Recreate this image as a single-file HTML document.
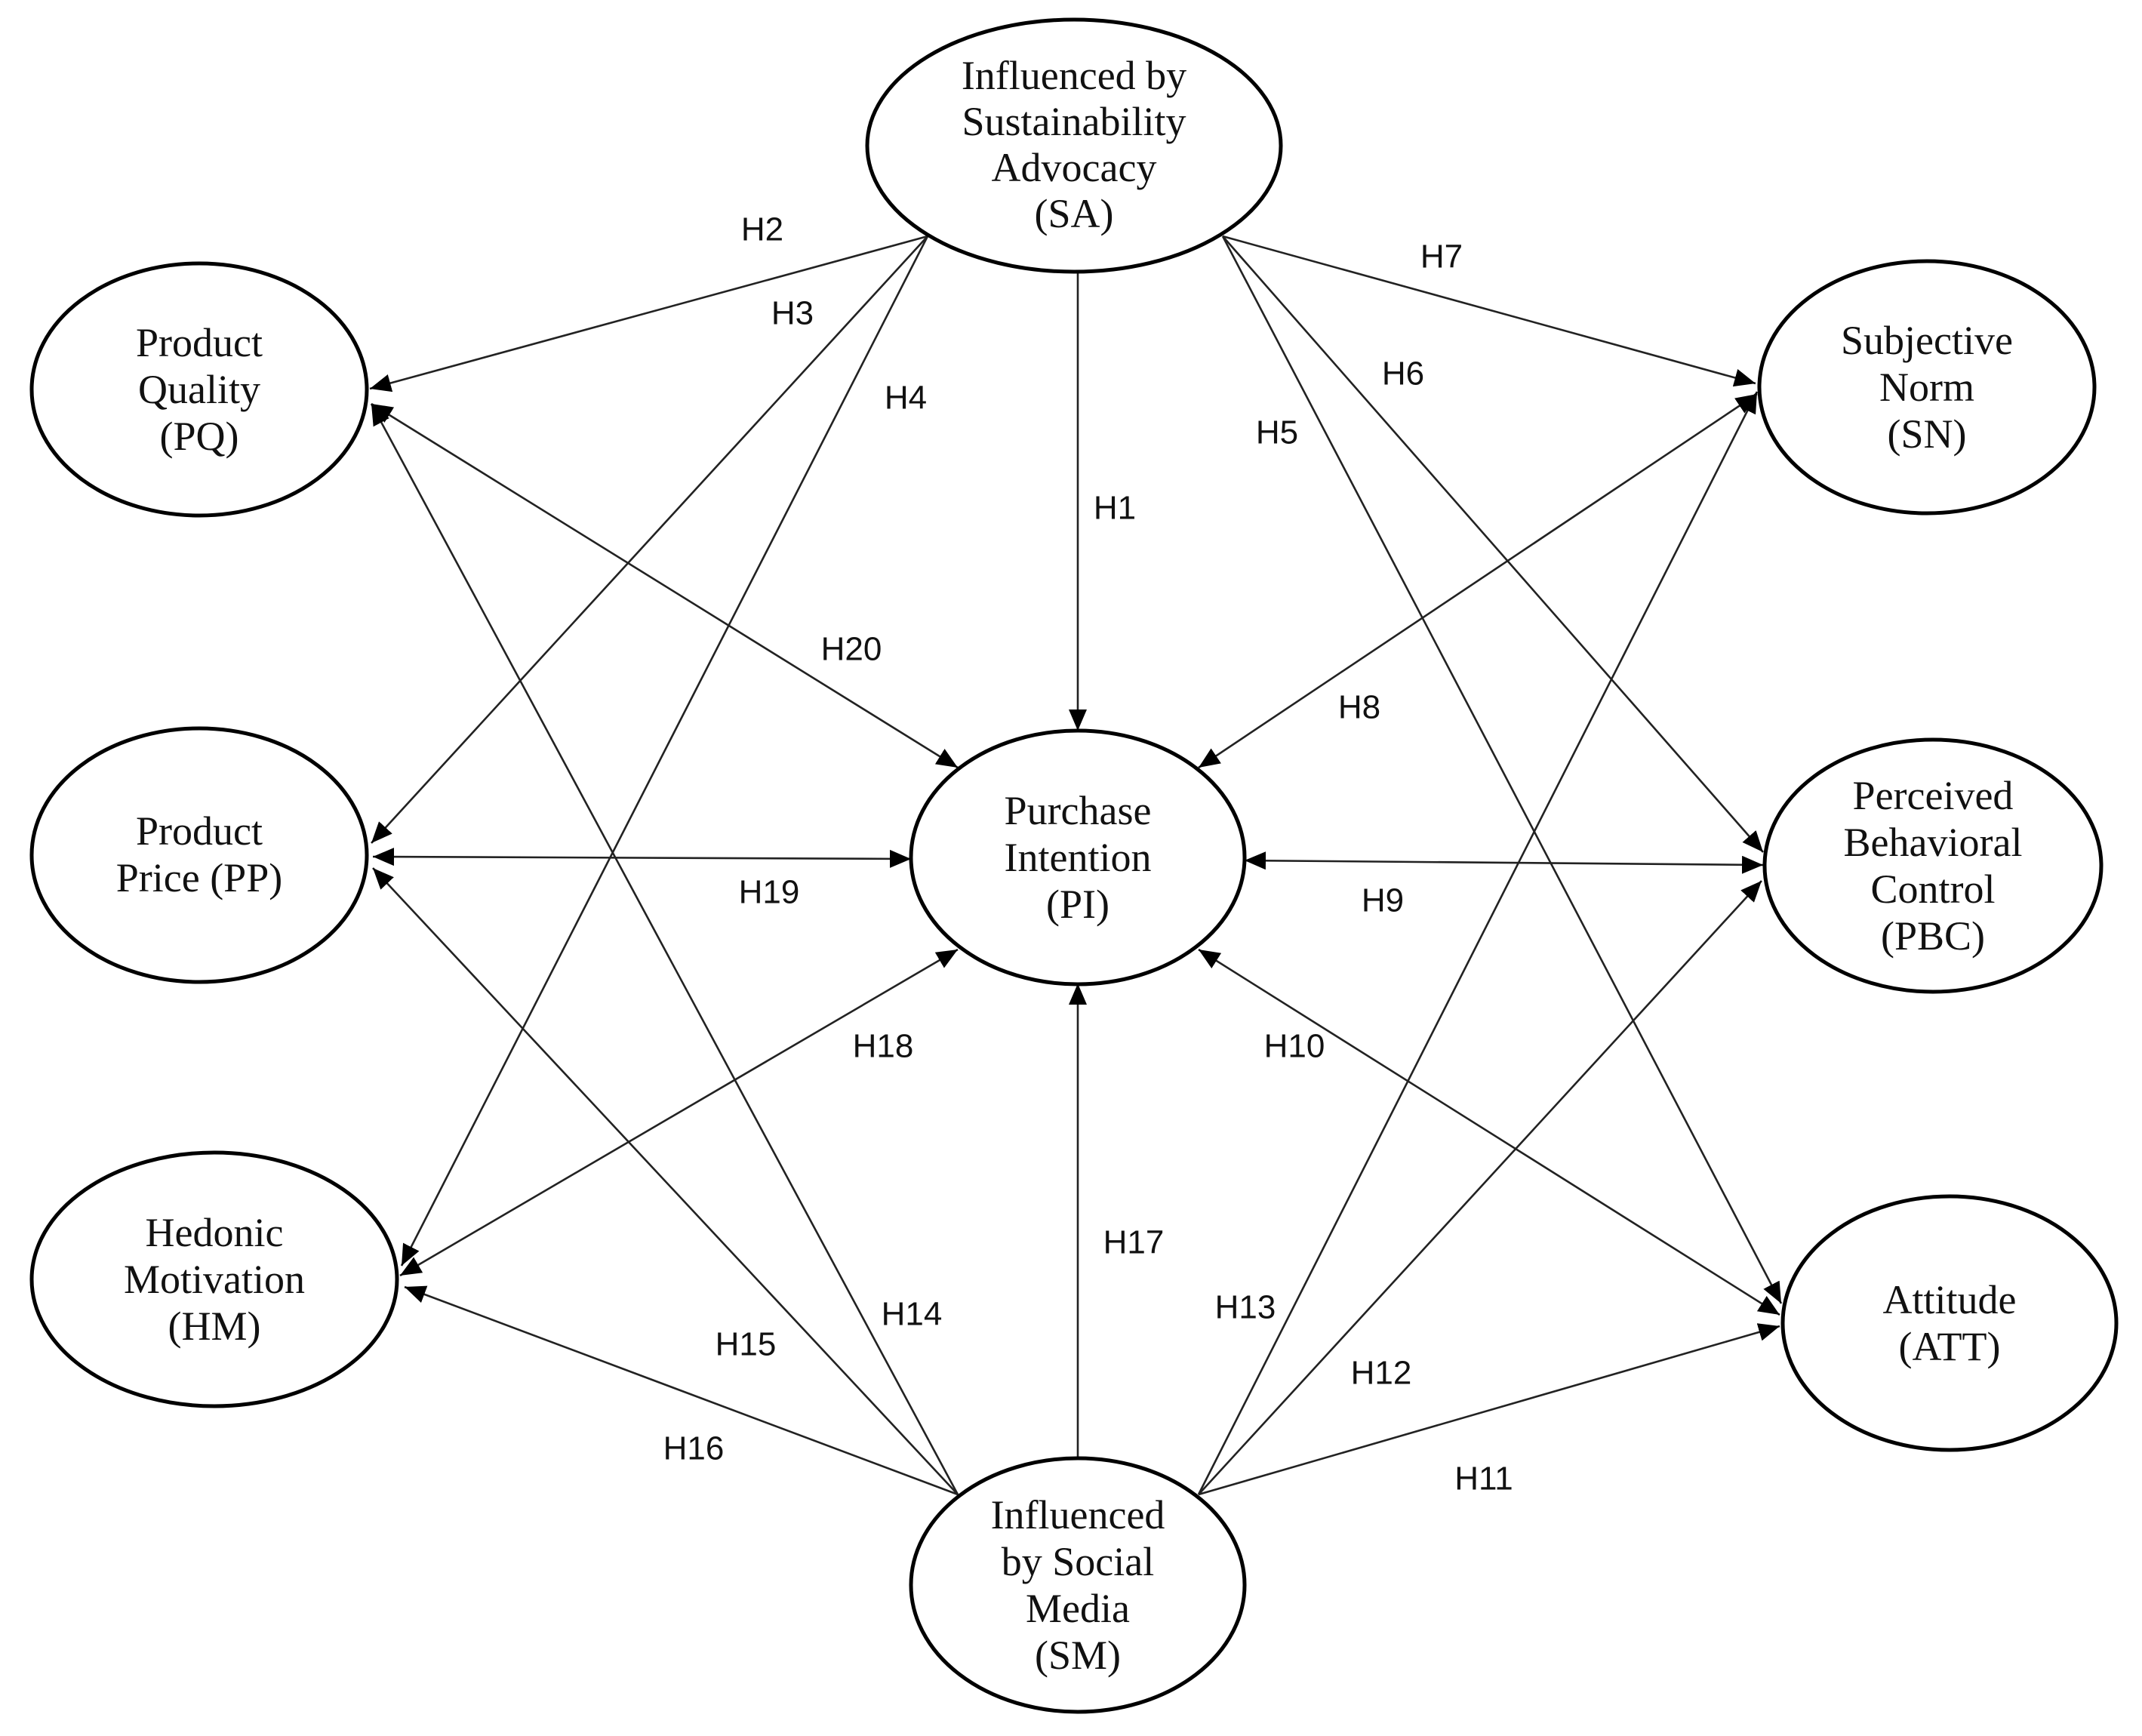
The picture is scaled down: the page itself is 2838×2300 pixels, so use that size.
<!DOCTYPE html>
<html><head><meta charset="utf-8"><style>
html,body{margin:0;padding:0;background:#fff;}
svg{display:block;}
.n{font-family:"Liberation Serif",serif;font-size:54px;fill:#111;text-anchor:middle;}
.h{font-family:"Liberation Sans",sans-serif;font-size:44px;fill:#111;text-anchor:middle;dominant-baseline:central;}
ellipse{fill:#fff;stroke:#000;stroke-width:5;}
line{stroke:#222;stroke-width:2.6;}
</style></head><body>
<svg width="2838" height="2300" viewBox="0 0 2838 2300" xmlns="http://www.w3.org/2000/svg">
<defs>
<marker id="a" markerUnits="userSpaceOnUse" markerWidth="30" markerHeight="26" refX="28" refY="12" orient="auto-start-reverse">
<path d="M0,0 L28,12 L0,24 z" fill="#000"/>
</marker>
</defs>
<!-- connectors -->
<!-- from SA -->
<line x1="1229" y1="313" x2="490" y2="515" marker-end="url(#a)"/>
<line x1="1229" y1="313" x2="492" y2="1117" marker-end="url(#a)"/>
<line x1="1229" y1="313" x2="532" y2="1677" marker-end="url(#a)"/>
<line x1="1428" y1="360" x2="1428" y2="968" marker-end="url(#a)"/>
<line x1="1620" y1="313" x2="2326" y2="508" marker-end="url(#a)"/>
<line x1="1620" y1="313" x2="2336" y2="1129" marker-end="url(#a)"/>
<line x1="1620" y1="313" x2="2360" y2="1727" marker-end="url(#a)"/>
<!-- PI double-headed -->
<line x1="1269" y1="1017" x2="492" y2="535" marker-start="url(#a)" marker-end="url(#a)"/>
<line x1="1207" y1="1138" x2="494" y2="1135" marker-start="url(#a)" marker-end="url(#a)"/>
<line x1="1269" y1="1258" x2="530" y2="1690" marker-start="url(#a)" marker-end="url(#a)"/>
<line x1="1588" y1="1017" x2="2328" y2="522" marker-start="url(#a)" marker-end="url(#a)"/>
<line x1="1649" y1="1140" x2="2336" y2="1146" marker-start="url(#a)" marker-end="url(#a)"/>
<line x1="1588" y1="1258" x2="2358" y2="1742" marker-start="url(#a)" marker-end="url(#a)"/>
<!-- from SM -->
<line x1="1428" y1="1932" x2="1428" y2="1303" marker-end="url(#a)"/>
<line x1="1269" y1="1980" x2="492" y2="535" marker-end="url(#a)"/>
<line x1="1269" y1="1980" x2="494" y2="1150" marker-end="url(#a)"/>
<line x1="1269" y1="1980" x2="536" y2="1705" marker-end="url(#a)"/>
<line x1="1588" y1="1980" x2="2328" y2="519" marker-end="url(#a)"/>
<line x1="1588" y1="1980" x2="2334" y2="1167" marker-end="url(#a)"/>
<line x1="1588" y1="1980" x2="2358" y2="1757" marker-end="url(#a)"/>

<!-- nodes -->
<ellipse cx="1423" cy="193" rx="274" ry="167"/>
<text class="n" x="1423" y="118">Influenced by</text>
<text class="n" x="1423" y="179">Sustainability</text>
<text class="n" x="1423" y="240">Advocacy</text>
<text class="n" x="1423" y="301">(SA)</text>

<ellipse cx="264" cy="516" rx="222" ry="167"/>
<text class="n" x="264" y="472">Product</text>
<text class="n" x="264" y="534">Quality</text>
<text class="n" x="264" y="596">(PQ)</text>

<ellipse cx="264" cy="1133" rx="222" ry="168"/>
<text class="n" x="264" y="1119">Product</text>
<text class="n" x="264" y="1181">Price (PP)</text>

<ellipse cx="284" cy="1695" rx="242" ry="168"/>
<text class="n" x="284" y="1651">Hedonic</text>
<text class="n" x="284" y="1713">Motivation</text>
<text class="n" x="284" y="1775">(HM)</text>

<ellipse cx="1428" cy="1136" rx="221" ry="168"/>
<text class="n" x="1428" y="1092">Purchase</text>
<text class="n" x="1428" y="1154">Intention</text>
<text class="n" x="1428" y="1216">(PI)</text>

<ellipse cx="2553" cy="513" rx="222" ry="167"/>
<text class="n" x="2553" y="469">Subjective</text>
<text class="n" x="2553" y="531">Norm</text>
<text class="n" x="2553" y="593">(SN)</text>

<ellipse cx="2561" cy="1147" rx="223" ry="167"/>
<text class="n" x="2561" y="1072">Perceived</text>
<text class="n" x="2561" y="1134">Behavioral</text>
<text class="n" x="2561" y="1196">Control</text>
<text class="n" x="2561" y="1258">(PBC)</text>

<ellipse cx="2583" cy="1753" rx="221" ry="168"/>
<text class="n" x="2583" y="1740">Attitude</text>
<text class="n" x="2583" y="1802">(ATT)</text>

<ellipse cx="1428" cy="2100" rx="221" ry="168"/>
<text class="n" x="1428" y="2025">Influenced</text>
<text class="n" x="1428" y="2087">by Social</text>
<text class="n" x="1428" y="2149">Media</text>
<text class="n" x="1428" y="2211">(SM)</text>

<!-- labels -->
<text class="h" x="1010" y="304">H2</text>
<text class="h" x="1050" y="415">H3</text>
<text class="h" x="1200" y="527">H4</text>
<text class="h" x="1477" y="673">H1</text>
<text class="h" x="1910" y="340">H7</text>
<text class="h" x="1859" y="495">H6</text>
<text class="h" x="1692" y="573">H5</text>
<text class="h" x="1128" y="860">H20</text>
<text class="h" x="1801" y="937">H8</text>
<text class="h" x="1019" y="1182">H19</text>
<text class="h" x="1832" y="1193">H9</text>
<text class="h" x="1170" y="1386">H18</text>
<text class="h" x="1715" y="1386">H10</text>
<text class="h" x="1502" y="1646">H17</text>
<text class="h" x="1650" y="1732">H13</text>
<text class="h" x="1208" y="1741">H14</text>
<text class="h" x="988" y="1781">H15</text>
<text class="h" x="1830" y="1819">H12</text>
<text class="h" x="919" y="1919">H16</text>
<text class="h" x="1966" y="1959">H11</text>
</svg>
</body></html>
